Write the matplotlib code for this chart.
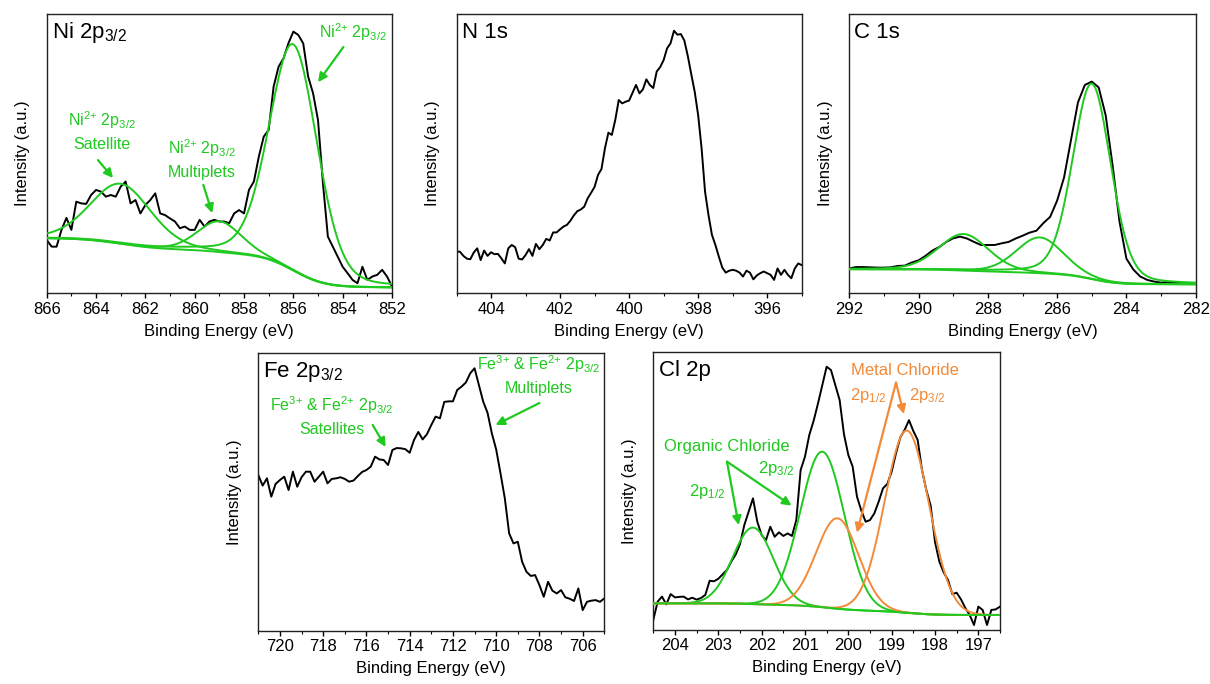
import numpy as np
import matplotlib.pyplot as plt
from matplotlib.ticker import MultipleLocator, FormatStrFormatter

plt.rcParams['font.family'] = ['Liberation Sans', 'DejaVu Sans']
plt.rcParams['mathtext.fontset'] = 'custom'
plt.rcParams['mathtext.rm'] = 'Liberation Sans'
plt.rcParams['mathtext.it'] = 'Liberation Sans:italic'
plt.rcParams['mathtext.bf'] = 'Liberation Sans:bold'
plt.rcParams['mathtext.default'] = 'regular'

GREEN = '#1FC91F'
ORANGE = '#F28A38'
LW = 1.4

### Measured spectra (intensity in a.u., 0 = bottom of frame, 100 = top)
# Ni 2p3/2, 866 -> 852 eV, 0.2 eV steps
ni_counts = [19.1, 16.7, 16.7, 22.7, 27.0, 22.7, 32.8, 32.2, 32.0, 35.2,
             37.0, 36.4, 34.6, 35.2, 34.6, 38.2, 40.0, 32.2, 33.4, 28.6,
             31.6, 33.4, 35.8, 28.6, 28.0, 26.8, 25.7, 23.3, 23.9, 22.7,
             22.7, 26.3, 23.9, 25.7, 26.3, 25.7, 25.7, 25.1, 28.6, 29.8,
             28.6, 37.0, 40.0, 48.9, 56.1, 58.5, 74.0, 81.1, 84.1, 89.5,
             93.7, 92.5, 89.5, 77.6, 71.6, 62.0, 39.4, 20.3, 16.7, 13.1,
             9.5, 7.2, 4.8, 3.6, 9.5, 4.8, 6.0, 6.6, 8.4, 6.0,
             2.4]
ni_range = (866.0, 852.0)

# N 1s, 405 -> 395 eV, 0.1 eV steps
n_counts = [14.9, 14.9, 13.4, 12.4, 12.2, 14.6, 16.1, 11.9, 15.3, 13.4,
            14.7, 14.0, 14.1, 12.5, 10.7, 16.1, 17.3, 16.5, 12.4, 12.1,
            13.7, 15.8, 13.4, 17.7, 15.8, 17.3, 19.5, 18.9, 21.8, 21.8,
            22.9, 23.9, 24.5, 26.0, 27.9, 29.4, 30.0, 31.0, 34.0, 36.0,
            38.1, 42.4, 44.5, 51.9, 57.5, 56.7, 62.1, 69.2, 68.0, 68.6,
            69.0, 71.8, 74.6, 71.6, 73.0, 76.6, 74.6, 73.5, 79.4, 81.0,
            83.5, 87.7, 89.5, 94.0, 92.6, 92.8, 90.5, 85.0, 78.5, 72.2,
            63.8, 51.9, 36.4, 28.0, 20.9, 17.3, 13.1, 9.2, 7.4, 8.1,
            8.4, 8.1, 7.4, 6.0, 8.1, 7.4, 5.0, 6.4, 7.2, 7.8,
            7.2, 6.6, 4.8, 8.9, 6.6, 8.4, 6.6, 5.4, 8.9, 10.7,
            10.1]
n_range = (405.0, 395.0)

# C 1s, 292 -> 282 eV, 0.2 eV steps
c_counts = [8.9, 9.4, 9.4, 9.3, 9.2, 9.2, 9.3, 9.8, 9.9, 11.0,
            11.8, 13.4, 15.3, 16.6, 18.4, 19.7, 20.3, 19.6, 18.4, 17.3,
            17.3, 17.3, 17.9, 18.4, 19.6, 20.6, 21.7, 22.4, 25.1, 27.4,
            33.2, 41.5, 54.9, 68.3, 74.6, 75.8, 73.7, 63.8, 45.9, 25.7,
            12.4, 8.5, 6.0, 4.8, 4.2, 3.8, 4.1, 3.8, 3.6, 3.5,
            3.3]
c_range = (292.0, 282.0)

# Fe 2p3/2, 721 -> 705 eV, 0.2 eV steps
fe_counts = [56.0, 52.2, 54.8, 48.2, 52.8, 54.2, 55.4, 50.6, 57.2, 51.8,
             55.2, 57.2, 57.2, 53.6, 55.4, 57.2, 53.0, 54.6, 54.8, 55.2,
             54.6, 53.6, 54.0, 55.6, 57.1, 57.8, 59.0, 62.6, 61.6, 61.4,
             59.6, 65.0, 65.7, 65.6, 65.3, 64.0, 68.6, 71.5, 68.8, 70.7,
             74.0, 77.0, 76.4, 82.3, 82.5, 82.5, 86.6, 87.8, 89.3, 92.6,
             94.4, 88.4, 82.4, 78.4, 71.0, 65.2, 56.6, 47.6, 35.0, 31.4,
             32.0, 24.8, 21.2, 19.7, 20.0, 16.4, 12.2, 17.6, 14.4, 13.4,
             14.6, 12.0, 11.5, 10.7, 15.2, 7.4, 10.4, 10.8, 11.0, 10.4,
             11.6]
fe_range = (721.0, 705.0)

# Cl 2p, 204.5 -> 196.5 eV, 0.1 eV steps
cl_counts = [3.6, 10.2, 12.0, 9.2, 12.9, 11.7, 11.9, 12.0, 11.0, 11.6,
             10.9, 11.5, 12.6, 17.7, 17.5, 18.4, 20.0, 21.6, 24.6, 27.1,
             30.8, 37.7, 42.5, 47.3, 38.9, 34.1, 32.3, 37.1, 33.5, 35.1,
             33.8, 34.7, 33.8, 39.5, 57.5, 62.3, 70.1, 75.2, 81.4, 88.0,
             94.6, 93.4, 88.0, 82.6, 70.3, 62.9, 58.7, 47.9, 42.9, 38.9,
             39.5, 41.9, 46.1, 50.9, 52.5, 56.9, 63.5, 69.2, 71.9, 75.4,
             71.5, 68.3, 57.5, 50.3, 44.7, 31.7, 24.6, 20.7, 18.0, 12.9,
             13.4, 11.0, 7.9, 5.4, 1.8, 8.4, 7.2, 1.8, 7.2, 7.4,
             8.4]
cl_range = (204.5, 196.5)

### Peak fit results: centre (eV), height, FWHM (eV)
ni_centers = [863.0, 859.0, 856.0]
ni_heights = [21.5, 11.0, 81.0]
ni_fwhm = [2.9, 2.1, 2.3]
ni_bg = (19.7, 2.1)          # Shirley background at high / low BE end

c_centers = [288.7, 286.5, 285.0]
c_heights = [13.1, 12.8, 70.0]
c_fwhm = [1.7, 1.6, 1.3]
c_bg = (8.6, 3.2)

cl_centers = [202.2, 200.6, 200.25, 198.65]
cl_heights = [27.5, 55.9, 32.5, 65.5]
cl_fwhm = [1.1, 1.2, 1.15, 1.2]
cl_colors = [GREEN, GREEN, ORANGE, ORANGE]
cl_bg = (9.6, 5.4)


def pseudo_voigt(x, center, height, fwhm, eta):
    d = (x - center) / fwhm
    return height * ((1 - eta) * np.exp(-4 * np.log(2) * d ** 2) + eta / (1 + 4 * d ** 2))


def shirley(x, peaks, b_high, b_low):
    # x runs from high to low binding energy; step follows the peak area
    total = np.sum(peaks, axis=0)
    seg = 0.5 * (total[1:] + total[:-1]) * np.abs(np.diff(x))
    area = np.concatenate([[0.0], np.cumsum(seg)])
    from_low = area[-1] - area
    return b_low + (b_high - b_low) * from_low / area[-1]


def draw_fit(ax, xr, centers, heights, widths, colors, eta, bg_ends):
    x = np.linspace(xr[0], xr[1], 800)
    peaks = [pseudo_voigt(x, c, h, w, eta) for c, h, w in zip(centers, heights, widths)]
    bg = shirley(x, peaks, *bg_ends)
    for p, col in zip(peaks, colors):
        ax.plot(x, bg + p, color=col, lw=LW, zorder=3)
    ax.plot(x, bg, color=GREEN, lw=LW, zorder=4)


def px_axes(fig, left, top, right, bottom):
    W, H = 1210.0, 684.0
    return fig.add_axes([left / W, 1 - bottom / H, (right - left) / W, (bottom - top) / H])


def setup(ax, xr, major, title):
    ax.set_xlim(xr)
    ax.set_ylim(0, 100)
    ax.xaxis.set_major_locator(MultipleLocator(major))
    ax.xaxis.set_minor_locator(MultipleLocator(major / 2))
    ax.xaxis.set_major_formatter(FormatStrFormatter('%d'))
    ax.tick_params(axis='x', which='major', direction='out', length=3.5, width=1.0,
                   labelsize=12, pad=2.5)
    ax.tick_params(axis='x', which='minor', direction='out', length=2, width=0.8)
    ax.tick_params(axis='y', which='both', left=False, labelleft=False)
    for s in ax.spines.values():
        s.set_linewidth(1.0)
        s.set_color('#222222')
    ax.set_xlabel('Binding Energy (eV)', fontsize=12, labelpad=5)
    ax.set_ylabel('Intensity (a.u.)', fontsize=12, labelpad=12)
    ax.text(0.015, 0.913, title, transform=ax.transAxes, fontsize=16, va='baseline')


def arrow(ax, tail, head, color):
    ax.annotate('', xy=head, xytext=tail,
                arrowprops=dict(arrowstyle='-|>', color=color, lw=1.6,
                                mutation_scale=13, shrinkA=0, shrinkB=0))


fig = plt.figure(figsize=(12.1, 6.84), dpi=100)

ax_ni = px_axes(fig, 46.7, 14.0, 392.0, 293.3)
ax_n = px_axes(fig, 456.5, 14.0, 801.7, 293.3)
ax_c = px_axes(fig, 849.3, 14.0, 1195.7, 293.3)
ax_fe = px_axes(fig, 258.3, 352.7, 604.3, 630.7)
ax_cl = px_axes(fig, 653.3, 351.7, 1000.0, 630.0)

ni_label = 'Ni$^{2{+}}$ 2p$_{3/2}$'
fe_label = 'Fe$^{3{+}}$ & Fe$^{2{+}}$ 2p$_{3/2}$'
ANN = 11.5

# Ni 2p3/2
ax = ax_ni
ax.plot(np.linspace(*ni_range, len(ni_counts)), ni_counts, color='black', lw=LW, zorder=2)
draw_fit(ax, ni_range, ni_centers, ni_heights, ni_fwhm, [GREEN] * 3, 0.2, ni_bg)
setup(ax, ni_range, 2, 'Ni 2p$_{3/2}$')
ax.text(853.57, 93.5, ni_label, color=GREEN, fontsize=ANN, ha='center', va='center')
arrow(ax, (853.97, 88.2), (855.0, 75.6), GREEN)
ax.text(863.77, 58.1, ni_label + '\nSatellite', color=GREEN, fontsize=ANN,
        ha='center', va='center', linespacing=1.5)
arrow(ax, (863.92, 47.7), (863.31, 41.3), GREEN)
ax.text(859.71, 48.1, ni_label + '\nMultiplets', color=GREEN, fontsize=ANN,
        ha='center', va='center', linespacing=1.5)
arrow(ax, (859.65, 38.8), (859.29, 28.7), GREEN)

# N 1s
ax = ax_n
ax.plot(np.linspace(*n_range, len(n_counts)), n_counts, color='black', lw=LW)
setup(ax, n_range, 2, 'N 1s')

# C 1s
ax = ax_c
ax.plot(np.linspace(*c_range, len(c_counts)), c_counts, color='black', lw=LW, zorder=2)
draw_fit(ax, c_range, c_centers, c_heights, c_fwhm, [GREEN] * 3, 0.2, c_bg)
setup(ax, c_range, 2, 'C 1s')

# Fe 2p3/2
ax = ax_fe
ax.plot(np.linspace(*fe_range, len(fe_counts)), fe_counts, color='black', lw=LW)
setup(ax, fe_range, 2, 'Fe 2p$_{3/2}$')
ax.text(717.6, 77.2, fe_label + '\nSatellites', color=GREEN, fontsize=ANN,
        ha='center', va='center', linespacing=1.5)
arrow(ax, (715.71, 74.0), (715.11, 66.1), GREEN)
ax.text(708.05, 92.0, fe_label + '\nMultiplets', color=GREEN, fontsize=ANN,
        ha='center', va='center', linespacing=1.5)
arrow(ax, (708.0, 81.9), (710.03, 74.0), GREEN)

# Cl 2p
ax = ax_cl
ax.plot(np.linspace(*cl_range, len(cl_counts)), cl_counts, color='black', lw=LW, zorder=2)
draw_fit(ax, cl_range, cl_centers, cl_heights, cl_fwhm, cl_colors, 0.0, cl_bg)
setup(ax, cl_range, 1, 'Cl 2p')
ax.text(202.8, 65.8, 'Organic Chloride', color=GREEN, fontsize=12, ha='center', va='center')
ax.text(203.26, 49.6, '2p$_{1/2}$', color=GREEN, fontsize=12, ha='center', va='center')
ax.text(201.66, 57.9, '2p$_{3/2}$', color=GREEN, fontsize=12, ha='center', va='center')
arrow(ax, (202.8, 60.5), (202.53, 37.7), GREEN)
arrow(ax, (202.8, 60.5), (201.31, 44.7), GREEN)
ax.text(198.7, 93.2, 'Metal Chloride', color=ORANGE, fontsize=12, ha='center', va='center')
ax.text(199.55, 84.4, '2p$_{1/2}$', color=ORANGE, fontsize=12, ha='center', va='center')
ax.text(198.18, 84.4, '2p$_{3/2}$', color=ORANGE, fontsize=12, ha='center', va='center')
arrow(ax, (198.9, 88.9), (199.8, 35.0), ORANGE)
arrow(ax, (198.9, 88.9), (198.72, 77.6), ORANGE)

fig.savefig('out.png', dpi=100)
